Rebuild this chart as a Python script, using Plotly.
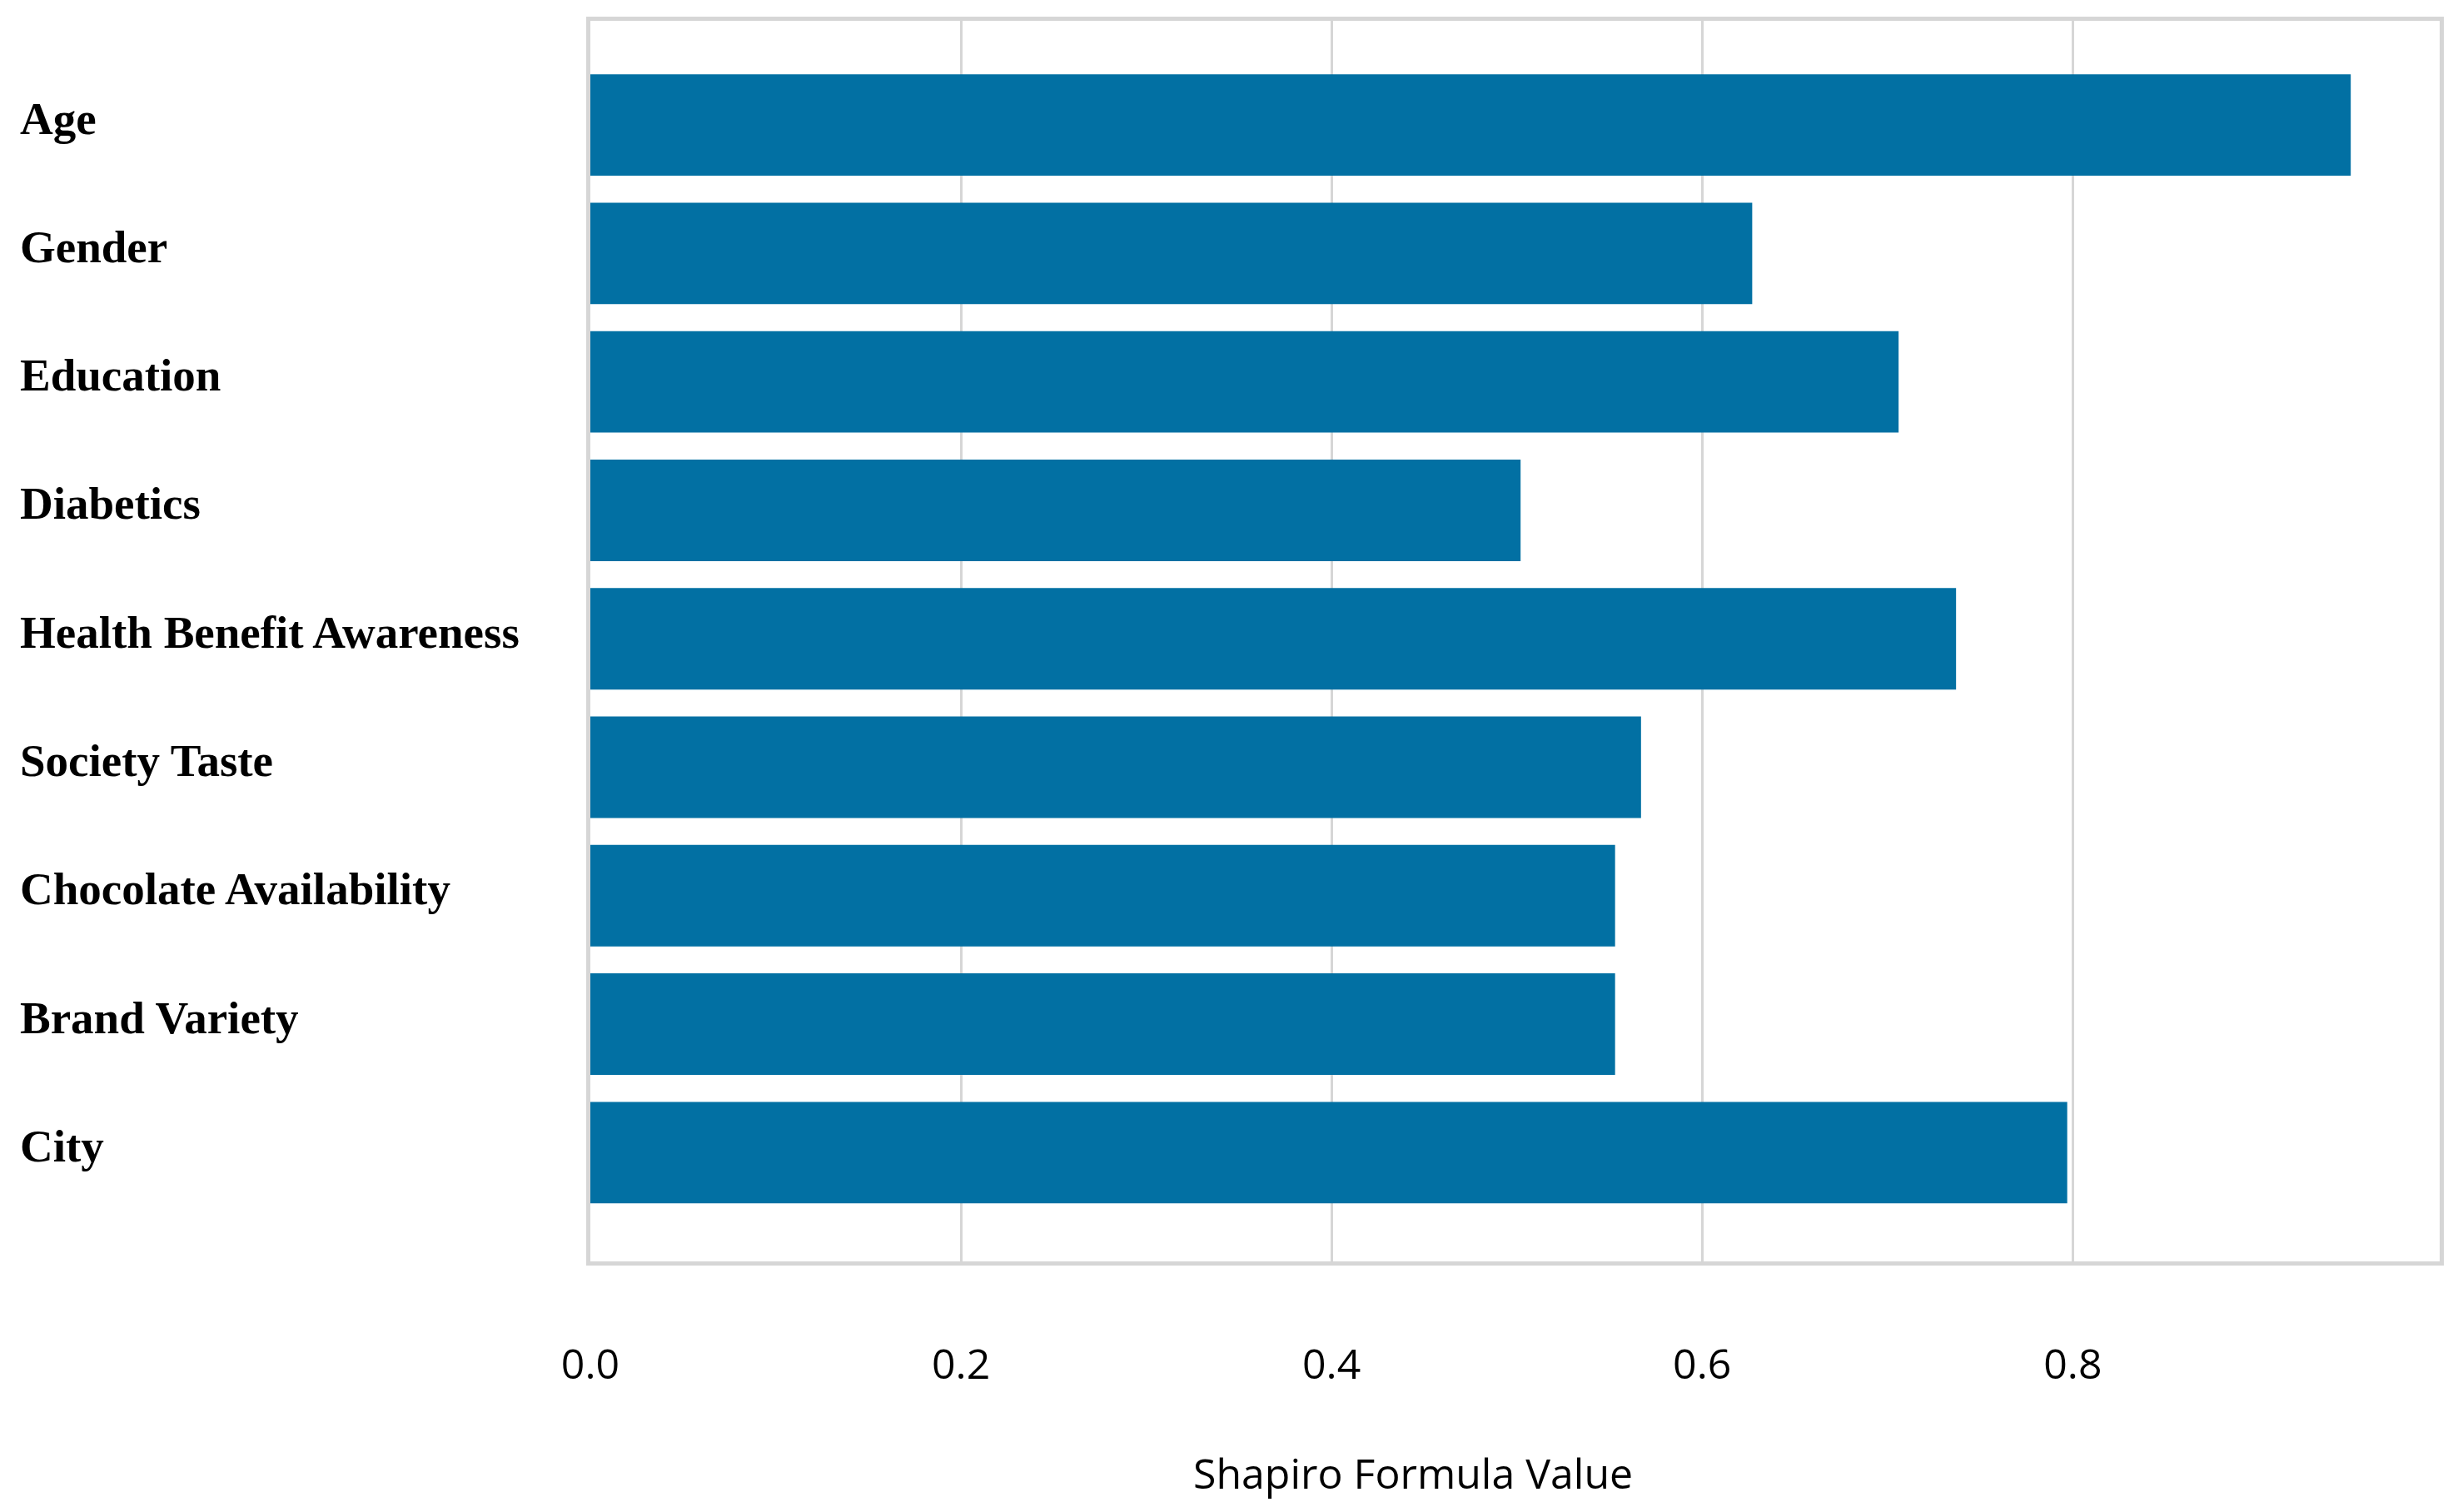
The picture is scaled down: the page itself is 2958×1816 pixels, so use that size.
import plotly.graph_objects as go

categories = ["Age", "Gender", "Education", "Diabetics", "Health Benefit Awareness",
              "Society Taste", "Chocolate Availability", "Brand Variety", "City"]
values = [0.950, 0.627, 0.706, 0.502, 0.737, 0.567, 0.553, 0.553, 0.797]
x_tick_vals = [0.0, 0.2, 0.4, 0.6, 0.8]
x_tick_text = ["0.0", "0.2", "0.4", "0.6", "0.8"]
x_title = "Shapiro Formula Value"

# page body has an 8px margin, so the figure is placed at (8, 8)
W, H = 2942, 1800
ML, MR, MT, MB = 701, 20, 13, 293
plot_w = W - ML - MR
plot_h = H - MT - MB

fig = go.Figure()
fig.add_trace(go.Bar(
    x=values, y=categories, orientation="h",
    marker=dict(color="#0270A3", line=dict(width=0)),
    showlegend=False,
))

grid_col = "#d6d6d6"
fig.update_layout(
    width=W, height=H,
    margin=dict(l=ML, r=MR, t=MT, b=MB, pad=0),
    paper_bgcolor="white", plot_bgcolor="white",
    bargap=0.21,
    xaxis=dict(
        range=[0, 0.998],
        tickvals=x_tick_vals, ticktext=x_tick_text,
        tickfont=dict(family="Open Sans", size=50, color="#000000"),
        ticks="outside", ticklen=76, tickcolor="rgba(0,0,0,0)", tickwidth=1,
        showgrid=True, gridcolor=grid_col, gridwidth=3,
        showline=True, linecolor=grid_col, linewidth=5, mirror=True,
        zeroline=False,
    ),
    yaxis=dict(
        categoryorder="array", categoryarray=categories,
        range=[8.847, -0.811],
        showticklabels=False, ticks="",
        showgrid=False,
        showline=True, linecolor=grid_col, linewidth=5, mirror=True,
        zeroline=False,
    ),
)

# axis title, placed where the reference has it (left of the plot centre)
title_cx = (1697 - 8 - ML) / plot_w
title_cy = (plot_h + MT - (1770 - 8)) / plot_h
fig.add_annotation(
    x=title_cx, xref="paper", y=title_cy, yref="paper",
    text=x_title, showarrow=False, xanchor="center", yanchor="middle",
    borderpad=0,
    font=dict(family="Open Sans", size=50, color="#000000"),
)

label_x = (22 - 8 - ML) / plot_w
for c in categories:
    fig.add_annotation(
        x=label_x, xref="paper", y=c, yref="y",
        text=c, showarrow=False, xanchor="left", yanchor="middle", yshift=8,
        font=dict(family="Liberation Serif", size=55, color="#000000", weight="bold"),
    )

fig.write_html("out.html")
